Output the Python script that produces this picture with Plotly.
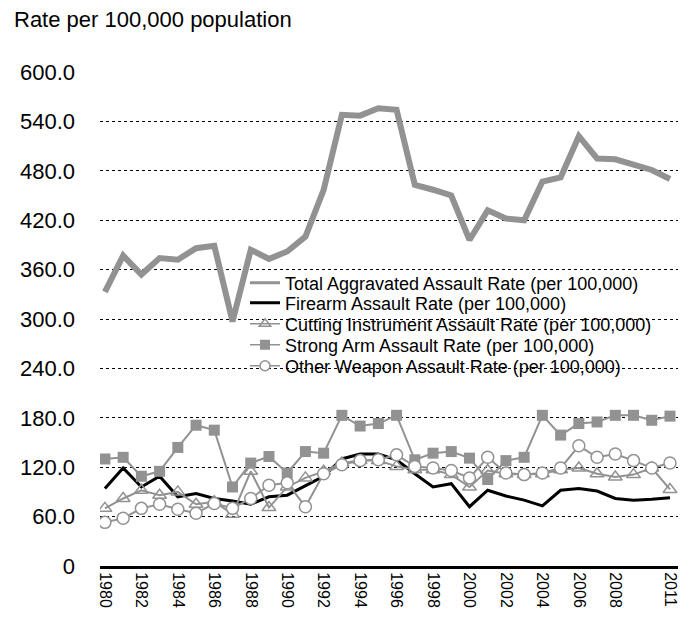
import plotly.graph_objects as go

years = list(range(1980, 2012))
total = [333, 377, 354, 374, 372, 386, 389, 297, 384, 373, 382, 400, 457, 548, 547, 556,
         554, 463, 457, 450, 396, 432, 422, 420, 467, 472, 522, 495, 494, 488, 481, 470]
firearm = [94, 119, 96, 109, 84, 88, 82, 79, 75, 84, 86, 97, 109, 130, 136, 136,
           129, 112, 96, 100, 72, 92, 85, 80, 73, 92, 94, 91, 82, 80, 81, 83]
cutting = [70, 82, 92, 86, 90, 75, 78, 63, 115, 71, 96, 107, 115, 125, 128, 128,
           121, 117, 117, 111, 96, 116, 112, 111, 112, 117, 119, 112, 108, 111, 119, 93]
strong = [130, 132, 109, 115, 144, 171, 165, 96, 125, 133, 113, 139, 137, 183, 170, 173,
          183, 129, 137, 139, 131, 105, 128, 132, 183, 159, 173, 175, 183, 183, 177, 182]
other = [53, 58, 70, 75, 69, 64, 76, 70, 82, 98, 101, 72, 112, 123, 128, 129,
         135, 121, 119, 116, 107, 132, 113, 111, 113, 119, 146, 132, 136, 128, 119, 125]

names = ["Total Aggravated Assault Rate (per 100,000)",
         "Firearm Assault Rate (per 100,000)",
         "Cutting Instrument Assault Rate (per 100,000)",
         "Strong Arm Assault Rate (per 100,000)",
         "Other Weapon Assault Rate (per 100,000)"]

yticks = [0, 60, 120, 180, 240, 300, 360, 420, 480, 540, 600]
ytext = ["0"] + [f"{v:.1f}" for v in yticks[1:]]
xticks = list(range(1980, 2009, 2)) + [2011]

GRAY = "#929292"
FONT = "Liberation Sans, Arial, Helvetica, sans-serif"

# plot area in figure pixels (page body adds 8px offset)
L, R, T, B = 92, 20, 64, 60
PW = 690 - L - R
PH = 618 - T - B

fig = go.Figure()
fig.add_trace(go.Scatter(x=years, y=total, name=names[0], mode="lines", showlegend=False,
                         line=dict(color=GRAY, width=6)))
fig.add_trace(go.Scatter(x=years, y=firearm, name=names[1], mode="lines", showlegend=False,
                         line=dict(color="black", width=3)))
fig.add_trace(go.Scatter(x=years, y=cutting, name=names[2], mode="lines+markers", showlegend=False,
                         line=dict(color=GRAY, width=2),
                         marker=dict(symbol="triangle-up-open", size=12, color=GRAY,
                                     line=dict(width=1.5, color=GRAY))))
fig.add_trace(go.Scatter(x=years, y=strong, name=names[3], mode="lines+markers", showlegend=False,
                         line=dict(color=GRAY, width=2),
                         marker=dict(symbol="square", size=11, color=GRAY)))
fig.add_trace(go.Scatter(x=years, y=other, name=names[4], mode="lines+markers", showlegend=False,
                         line=dict(color=GRAY, width=2),
                         marker=dict(symbol="circle", size=12, color="white",
                                     line=dict(width=1.5, color=GRAY))))

# legend entries (thinner symbols as in the original legend), one legend box per row
leg_styles = [
    dict(mode="lines", line=dict(color=GRAY, width=3)),
    dict(mode="lines", line=dict(color="black", width=3)),
    dict(mode="lines+markers", line=dict(color=GRAY, width=1.5),
         marker=dict(symbol="triangle-up-open", size=10, color=GRAY, line=dict(width=1.5, color=GRAY))),
    dict(mode="lines+markers", line=dict(color=GRAY, width=1.5),
         marker=dict(symbol="square", size=10, color=GRAY)),
    dict(mode="lines+markers", line=dict(color=GRAY, width=1.5),
         marker=dict(symbol="circle", size=10, color="white", line=dict(width=1.5, color=GRAY))),
]
legend_ids = ["legend", "legend2", "legend3", "legend4", "legend5"]
row_centers = [275, 295, 316, 337, 358]  # figure px
for nm, st, lid in zip(names, leg_styles, legend_ids):
    fig.add_trace(go.Scatter(x=[None], y=[None], name=nm, showlegend=True, legend=lid,
                             hoverinfo="skip", **st))

legend_layout = {}
for lid, yc in zip(legend_ids, row_centers):
    legend_layout[lid] = dict(x=(237 - L) / PW, y=(618 - B - yc) / PH, xanchor="left",
                              yanchor="middle", bgcolor="rgba(0,0,0,0)",
                              font=dict(size=18, family=FONT), itemwidth=30)

fig.update_layout(
    width=690, height=618,
    margin=dict(l=L, r=R, t=T, b=B),
    paper_bgcolor="white", plot_bgcolor="white",
    font=dict(family=FONT, color="black"),
    showlegend=True,
    annotations=[dict(text="Rate per 100,000 population", xref="paper", yref="paper",
                      x=(4 - L) / PW, y=(618 - B - 12) / PH, xanchor="left", yanchor="middle",
                      showarrow=False, font=dict(size=22, family=FONT))],
    **legend_layout,
)
fig.update_xaxes(range=[1979.73, 2011.44], tickvals=xticks, ticktext=[str(v) for v in xticks],
                 tickangle=90, tickfont=dict(size=16), showgrid=False, zeroline=False,
                 showline=True, linecolor="black", linewidth=3, ticks="")
fig.update_yaxes(range=[0, 600], tickvals=yticks, ticktext=ytext, tickfont=dict(size=22),
                 showgrid=True, gridcolor="black", griddash="dot", gridwidth=1,
                 zeroline=False, showline=False, ticklabelstandoff=24)

fig.write_html("out.html")
